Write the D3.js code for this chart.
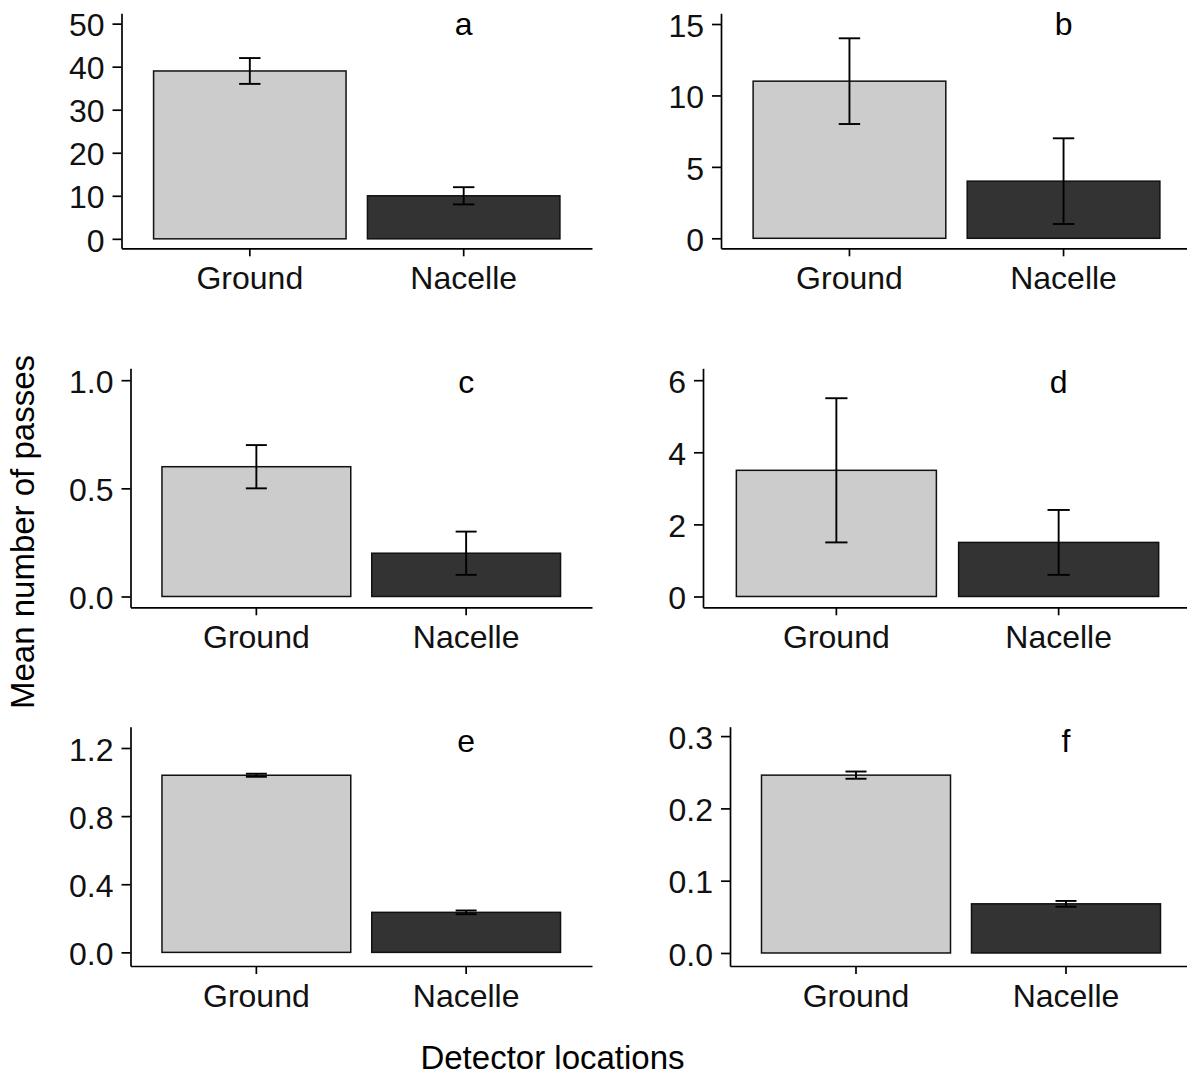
<!DOCTYPE html>
<html>
<head>
<meta charset="utf-8">
<script src="https://cdn.jsdelivr.net/npm/d3@7"></script>
<style>
  html, body { margin: 0; padding: 0; background: #ffffff; }
  svg { display: block; }
  text { font-family: "Liberation Sans", Arial, sans-serif; }
</style>
</head>
<body>
<svg id="chart" width="1187" height="1077"></svg>
<script>
// Detector locations compared in every panel
const categories = ["Ground", "Nacelle"];
const panelLetters = ["a", "b", "c", "d", "e", "f"];

// Mean number of passes and standard errors, one entry per panel (a–f)
const groundMeans    = [39, 11, 0.6, 3.5, 1.04, 0.246];
const groundErrors   = [3, 3, 0.1, 2, 0.009, 0.005];
const nacelleMeans   = [10, 4, 0.2, 1.5, 0.235, 0.068];
const nacelleErrors  = [2, 3, 0.1, 0.9, 0.011, 0.004];

// y-axis ticks and their labels for each panel
const yTickValues = [
  [0, 10, 20, 30, 40, 50],
  [0, 5, 10, 15],
  [0, 0.5, 1.0],
  [0, 2, 4, 6],
  [0, 0.4, 0.8, 1.2],
  [0, 0.1, 0.2, 0.3]
];
const yTickLabels = [
  ["0", "10", "20", "30", "40", "50"],
  ["0", "5", "10", "15"],
  ["0.0", "0.5", "1.0"],
  ["0", "2", "4", "6"],
  ["0.0", "0.4", "0.8", "1.2"],
  ["0.0", "0.1", "0.2", "0.3"]
];
// visible y range of each panel (axis limits plus padding)
const yDomains = [
  [-2.2, 52.4],
  [-0.7, 15.75],
  [-0.05, 1.055],
  [-0.3, 6.33],
  [-0.08, 1.325],
  [-0.018, 0.313]
];

const fills = { Ground: "#cccccc", Nacelle: "#333333" };

// plotting area of each panel on the page
const frames = [
  { x0: 121.5, x1: 592,  y0: 13.3,  y1: 248.3 },
  { x0: 721,   x1: 1192, y0: 13.3,  y1: 248.3 },
  { x0: 130.5, x1: 592,  y0: 368.3, y1: 607.3 },
  { x0: 703,   x1: 1192, y0: 368.3, y1: 607.3 },
  { x0: 130.5, x1: 592,  y0: 726.7, y1: 966 },
  { x0: 730,   x1: 1192, y0: 726.7, y1: 966 }
];
const letterOffsets = [21.7, 21.7, 25, 25, 25, 25];

const FONT = 32;
const svg = d3.select("#chart");

panelLetters.forEach((letter, i) => {
  const f = frames[i];
  const g = svg.append("g");

  const x = d3.scaleBand()
    .domain(categories)
    .range([f.x0, f.x1])
    .paddingInner(0.1)
    .paddingOuter(0.15);
  const y = d3.scaleLinear()
    .domain(yDomains[i])
    .range([f.y1, f.y0]);

  const rows = [
    { cat: "Ground",  mean: groundMeans[i],  err: groundErrors[i] },
    { cat: "Nacelle", mean: nacelleMeans[i], err: nacelleErrors[i] }
  ];

  // bars
  g.selectAll("rect.bar")
    .data(rows)
    .join("rect")
    .attr("class", "bar")
    .attr("x", d => x(d.cat))
    .attr("width", x.bandwidth())
    .attr("y", d => y(d.mean))
    .attr("height", d => y(0) - y(d.mean))
    .attr("fill", d => fills[d.cat])
    .attr("stroke", "#111111")
    .attr("stroke-width", 1.5);

  // error bars (width = 0.1 of category step)
  const capHalf = x.step() * 0.05;
  const eb = g.selectAll("g.err").data(rows).join("g").attr("class", "err")
    .attr("stroke", "#000000")
    .attr("stroke-width", 1.9)
    .attr("fill", "none");
  const cx = d => x(d.cat) + x.bandwidth() / 2;
  eb.append("line")
    .attr("x1", cx).attr("x2", cx)
    .attr("y1", d => y(d.mean + d.err)).attr("y2", d => y(d.mean - d.err));
  eb.append("line")
    .attr("x1", d => cx(d) - capHalf).attr("x2", d => cx(d) + capHalf)
    .attr("y1", d => y(d.mean + d.err)).attr("y2", d => y(d.mean + d.err));
  eb.append("line")
    .attr("x1", d => cx(d) - capHalf).attr("x2", d => cx(d) + capHalf)
    .attr("y1", d => y(d.mean - d.err)).attr("y2", d => y(d.mean - d.err));

  // y axis
  const yAxis = d3.axisLeft(y)
    .tickValues(yTickValues[i])
    .tickFormat((d, k) => yTickLabels[i][k])
    .tickSize(9)
    .tickSizeOuter(0)
    .tickPadding(8);
  const ya = g.append("g").attr("transform", `translate(${f.x0},0)`).call(yAxis);
  ya.select(".domain").attr("stroke", "#000").attr("stroke-width", 1.7);
  ya.selectAll(".tick line").attr("stroke", "#000").attr("stroke-width", 1.7);
  ya.selectAll(".tick text")
    .attr("font-size", FONT)
    .attr("font-family", "Liberation Sans, Arial, sans-serif")
    .attr("fill", "#111111")
    .attr("dy", "0.38em");

  // x axis
  const xAxis = d3.axisBottom(x).tickSize(8).tickSizeOuter(0);
  const xa = g.append("g").attr("transform", `translate(0,${f.y1})`).call(xAxis);
  xa.select(".domain").attr("stroke", "#000").attr("stroke-width", 1.7);
  xa.selectAll(".tick line").attr("stroke", "#000").attr("stroke-width", 1.7);
  xa.selectAll(".tick text")
    .attr("font-size", FONT)
    .attr("font-family", "Liberation Sans, Arial, sans-serif")
    .attr("fill", "#111111")
    .attr("y", 41)
    .attr("dy", 0);

  // panel letter above the Nacelle bar
  g.append("text")
    .attr("x", x("Nacelle") + x.bandwidth() / 2)
    .attr("y", f.y0 + letterOffsets[i])
    .attr("text-anchor", "middle")
    .attr("font-size", FONT)
    .attr("fill", "#000")
    .text(letter);
});

// shared axis titles
svg.append("text")
  .attr("x", 552.5)
  .attr("y", 1069)
  .attr("text-anchor", "middle")
  .attr("font-size", 33)
  .attr("fill", "#000")
  .text("Detector locations");

svg.append("text")
  .attr("transform", "translate(34,532) rotate(-90)")
  .attr("text-anchor", "middle")
  .attr("font-size", 33)
  .attr("fill", "#000")
  .text("Mean number of passes");
</script>
</body>
</html>
